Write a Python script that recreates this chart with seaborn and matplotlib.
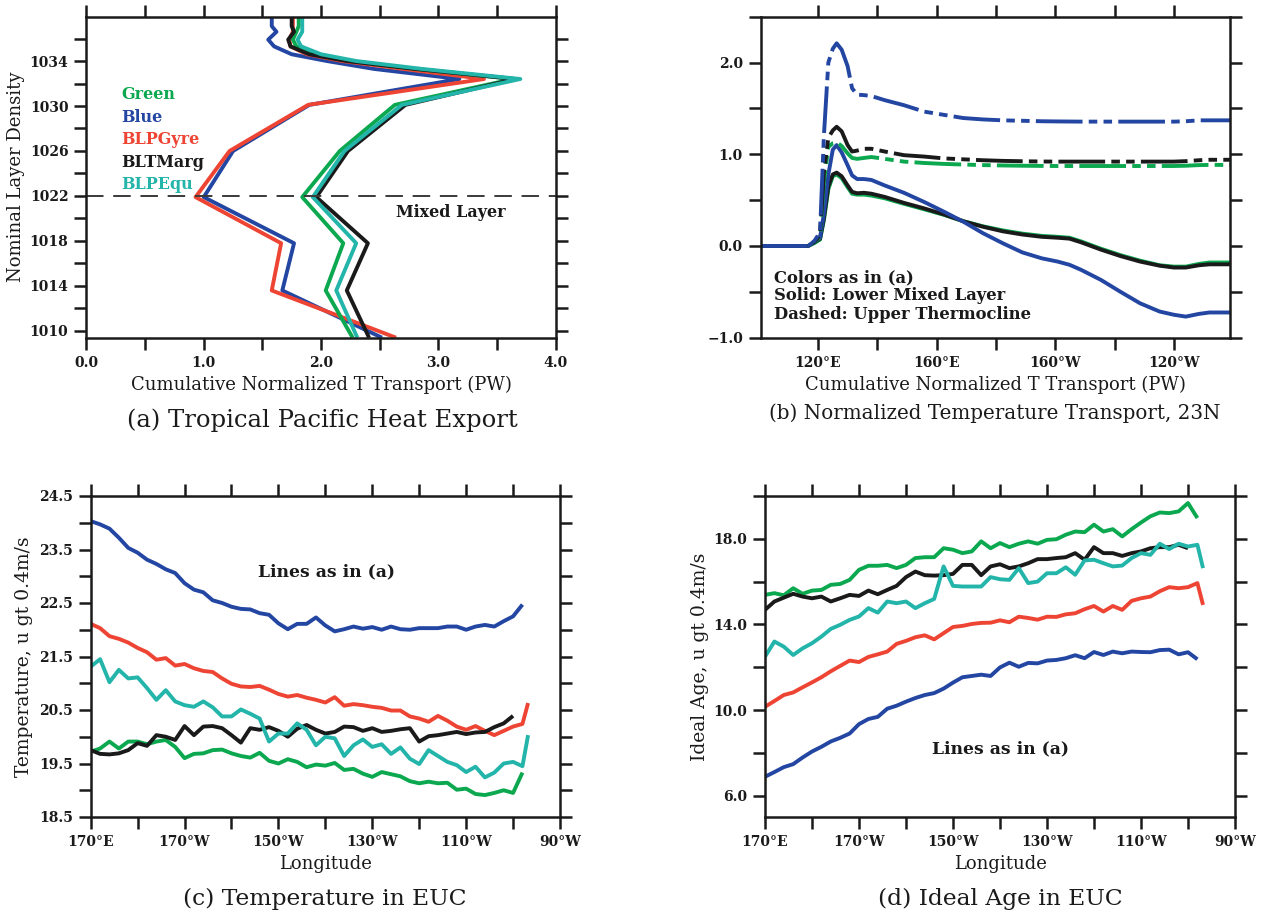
import numpy as np
import pandas as pd
import matplotlib
matplotlib.use("Agg")
import matplotlib.pyplot as plt
import seaborn as sns

# ---------------- colours / names ----------------
run_names = ["Green", "Blue", "BLPGyre", "BLTMarg", "BLPEqu"]
run_colors = ["#0BA84F", "#2346A2", "#EE4433", "#1A1A1A", "#23B4AA"]

# ---------------- panel (a) ----------------
density_a = [1009.4, 1013.6, 1017.8, 1021.9, 1026.0, 1030.1, 1032.4, 1033.3,
             1034.0, 1034.6, 1035.3, 1035.9, 1036.6, 1037.1, 1037.9]
a_green = [2.27, 2.04, 2.19, 1.84, 2.16, 2.63, 3.64, 2.80, 2.25, 1.95, 1.79, 1.76, 1.79, 1.81, 1.81]
a_blue = [2.52, 1.67, 1.77, 1.00, 1.25, 1.90, 3.18, 2.45, 2.05, 1.75, 1.60, 1.55, 1.62, 1.58, 1.58]
a_red = [2.64, 1.58, 1.66, 0.93, 1.22, 1.89, 3.39, 2.70, 2.18, 1.88, 1.74, 1.73, 1.76, 1.76, 1.76]
a_black = [2.41, 2.22, 2.40, 1.96, 2.23, 2.72, 3.66, 2.80, 2.22, 1.90, 1.74, 1.72, 1.77, 1.75, 1.75]
a_teal = [2.31, 2.13, 2.30, 1.93, 2.20, 2.69, 3.70, 2.86, 2.30, 2.00, 1.83, 1.80, 1.84, 1.84, 1.84]
mixed_layer_density = 1022

# ---------------- panel (b) ----------------
lon_b = [100.8, 110, 116.7, 118.7, 120.7, 122, 123.5, 125, 126.3, 128, 130, 131.5,
         133.2, 135.5, 138, 142.5, 149, 155.8, 162.4, 169, 175.6, 182.3, 188.9,
         195.5, 200.8, 204.8, 208.7, 215.4, 222, 228.6, 235.2, 240, 244, 248.5, 252, 258.9]
b_blue_solid = [0, 0, 0, 0.05, 0.09, 0.35, 0.78, 1.05, 1.10, 1.02, 0.88, 0.77, 0.73, 0.73,
                0.72, 0.66, 0.58, 0.48, 0.375, 0.265, 0.14, 0.03, -0.07, -0.135, -0.17,
                -0.205, -0.26, -0.37, -0.50, -0.625, -0.715, -0.75, -0.77, -0.74, -0.725, -0.725]
b_black_solid = [0, 0, 0, 0.04, 0.08, 0.30, 0.65, 0.78, 0.80, 0.76, 0.66, 0.59, 0.575, 0.58,
                 0.57, 0.535, 0.47, 0.41, 0.345, 0.27, 0.21, 0.16, 0.125, 0.10, 0.09, 0.08,
                 0.04, -0.04, -0.11, -0.17, -0.215, -0.235, -0.235, -0.21, -0.20, -0.20]
b_green_solid = [0, 0, 0, 0.03, 0.07, 0.28, 0.62, 0.76, 0.78, 0.74, 0.64, 0.57, 0.56, 0.56,
                 0.55, 0.52, 0.46, 0.40, 0.34, 0.27, 0.215, 0.17, 0.135, 0.11, 0.10, 0.09,
                 0.05, -0.03, -0.10, -0.16, -0.21, -0.225, -0.225, -0.195, -0.18, -0.18]
b_blue_dash = [0, 0, 0, 0.05, 0.15, 1.2, 2.0, 2.15, 2.21, 2.14, 1.96, 1.72, 1.65, 1.645,
               1.635, 1.59, 1.535, 1.465, 1.43, 1.395, 1.38, 1.37, 1.365, 1.36, 1.358,
               1.357, 1.356, 1.356, 1.356, 1.356, 1.356, 1.356, 1.36, 1.37, 1.37, 1.37]
b_black_dash = [0, 0, 0, 0.04, 0.12, 0.8, 1.18, 1.26, 1.30, 1.25, 1.10, 1.03, 1.04, 1.06,
                1.06, 1.03, 0.99, 0.975, 0.955, 0.945, 0.935, 0.928, 0.924, 0.921, 0.92,
                0.92, 0.92, 0.92, 0.92, 0.92, 0.92, 0.92, 0.925, 0.935, 0.94, 0.94]
b_green_dash = [0, 0, 0, 0.04, 0.10, 0.7, 1.08, 1.12, 1.13, 1.09, 1.01, 0.96, 0.95, 0.96,
                0.97, 0.95, 0.92, 0.905, 0.895, 0.888, 0.882, 0.878, 0.875, 0.873, 0.872,
                0.872, 0.872, 0.872, 0.872, 0.872, 0.872, 0.872, 0.875, 0.882, 0.884, 0.884]

# ---------------- panels (c) and (d) ----------------
nan = np.nan
lon_cd = list(range(170, 263, 2)) + [263.2]
c_blue = [24.03, 23.97, 23.89, 23.72, 23.53, 23.44, 23.31, 23.23, 23.13, 23.06, 22.87, 22.75,
          22.70, 22.55, 22.50, 22.43, 22.39, 22.38, 22.31, 22.28, 22.12, 22.01, 22.11, 22.11,
          22.23, 22.08, 21.97, 22.01, 22.06, 22.02, 22.05, 22.00, 22.06, 22.01, 22.00, 22.03,
          22.03, 22.03, 22.06, 22.06, 22.00, 22.06, 22.09, 22.06, 22.16, 22.25, 22.47, nan]
c_red = [22.11, 22.03, 21.88, 21.83, 21.76, 21.66, 21.58, 21.44, 21.47, 21.33, 21.36, 21.28,
         21.23, 21.21, 21.09, 20.99, 20.94, 20.93, 20.95, 20.88, 20.80, 20.75, 20.78, 20.73,
         20.69, 20.64, 20.74, 20.58, 20.61, 20.59, 20.56, 20.54, 20.49, 20.49, 20.38, 20.34,
         20.28, 20.39, 20.30, 20.19, 20.13, 20.20, 20.11, 20.03, 20.11, 20.19, 20.24, 20.63]
c_teal = [21.31, 21.45, 21.02, 21.25, 21.09, 21.11, 20.91, 20.69, 20.87, 20.66, 20.59, 20.56,
          20.66, 20.55, 20.38, 20.38, 20.51, 20.43, 20.34, 19.91, 20.06, 20.06, 20.25, 20.13,
          19.84, 20.00, 19.97, 19.64, 19.84, 19.95, 19.81, 19.86, 19.68, 19.80, 19.59, 19.49,
          19.75, 19.64, 19.53, 19.47, 19.34, 19.44, 19.24, 19.33, 19.50, 19.53, 19.45, 20.03]
c_black = [19.75, 19.68, 19.67, 19.69, 19.75, 19.88, 19.83, 20.03, 20.00, 19.94, 20.20, 20.03,
           20.19, 20.20, 20.16, 20.03, 19.89, 20.16, 20.13, 20.18, 20.11, 20.00, 20.15, 20.22,
           20.13, 20.06, 20.09, 20.19, 20.18, 20.11, 20.16, 20.09, 20.11, 20.14, 20.16, 19.91,
           20.01, 20.03, 20.06, 20.09, 20.05, 20.08, 20.09, 20.18, 20.25, 20.39, nan, nan]
c_green = [19.72, 19.78, 19.91, 19.78, 19.91, 19.91, 19.86, 19.91, 19.94, 19.81, 19.60, 19.68,
           19.69, 19.75, 19.76, 19.69, 19.64, 19.61, 19.70, 19.55, 19.50, 19.58, 19.53, 19.43,
           19.48, 19.46, 19.51, 19.38, 19.40, 19.31, 19.25, 19.34, 19.30, 19.26, 19.17, 19.13,
           19.16, 19.13, 19.14, 19.01, 19.03, 18.93, 18.91, 18.95, 19.00, 18.95, 19.33, nan]

d_green = [15.38, 15.46, 15.36, 15.69, 15.43, 15.58, 15.61, 15.85, 15.89, 16.08, 16.55, 16.74,
           16.74, 16.78, 16.63, 16.78, 17.10, 17.14, 17.14, 17.56, 17.49, 17.33, 17.41, 17.88,
           17.56, 17.80, 17.61, 17.77, 17.88, 17.77, 17.95, 17.98, 18.19, 18.34, 18.31, 18.66,
           18.34, 18.45, 18.11, 18.45, 18.76, 19.05, 19.23, 19.20, 19.28, 19.67, 18.97, nan]
d_black = [14.68, 15.07, 15.25, 15.43, 15.30, 15.22, 15.30, 15.07, 15.22, 15.38, 15.33, 15.58,
           15.41, 15.61, 15.80, 16.21, 16.47, 16.30, 16.28, 16.30, 16.36, 16.78, 16.78, 16.30,
           16.71, 16.81, 16.63, 16.71, 16.86, 17.05, 17.05, 17.10, 17.14, 17.33, 17.02, 17.61,
           17.33, 17.33, 17.20, 17.33, 17.41, 17.56, 17.61, 17.61, 17.72, 17.56, nan, nan]
d_teal = [12.49, 13.20, 12.96, 12.57, 12.88, 13.12, 13.43, 13.79, 13.98, 14.21, 14.37, 14.76,
          14.55, 15.07, 14.99, 15.07, 14.76, 14.99, 15.19, 16.71, 15.80, 15.77, 15.77, 15.77,
          16.21, 16.11, 16.08, 16.63, 15.93, 16.00, 16.39, 16.39, 16.67, 16.32, 16.99, 17.02,
          16.86, 16.71, 16.75, 17.10, 17.33, 17.25, 17.77, 17.52, 17.77, 17.64, 17.72, 16.63]
d_red = [10.15, 10.42, 10.70, 10.82, 11.06, 11.29, 11.53, 11.81, 12.06, 12.31, 12.24, 12.48,
         12.60, 12.73, 13.09, 13.23, 13.40, 13.49, 13.30, 13.59, 13.88, 13.93, 14.02, 14.07,
         14.08, 14.19, 14.10, 14.36, 14.30, 14.22, 14.36, 14.35, 14.47, 14.52, 14.71, 14.86,
         14.60, 14.86, 14.68, 15.10, 15.22, 15.30, 15.55, 15.74, 15.69, 15.74, 15.93, 14.91]
d_blue = [6.88, 7.10, 7.33, 7.47, 7.78, 8.06, 8.28, 8.53, 8.70, 8.90, 9.34, 9.58,
          9.68, 10.06, 10.20, 10.39, 10.56, 10.70, 10.79, 11.00, 11.28, 11.53, 11.59, 11.65,
          11.59, 11.99, 12.21, 12.02, 12.20, 12.18, 12.31, 12.34, 12.42, 12.56, 12.42, 12.71,
          12.57, 12.73, 12.65, 12.73, 12.71, 12.70, 12.80, 12.82, 12.60, 12.70, 12.37, nan]

# ---------------- styling ----------------
sns.set_theme(style="ticks")
plt.rcParams["font.family"] = ["DejaVu Serif"]
plt.rcParams["axes.linewidth"] = 1.8
plt.rcParams["lines.solid_capstyle"] = "butt"

col = dict(zip(run_names, run_colors))
W, H = 1265, 915
fig = plt.figure(figsize=(W / 100, H / 100), dpi=100)
fig.patch.set_facecolor("white")

def px_axes(left, top, right, bottom):
    return fig.add_axes([left / W, 1 - bottom / H, (right - left) / W, (bottom - top) / H])

axA = px_axes(86.5, 16.7, 555.5, 337.7)
axB = px_axes(761, 16.7, 1230, 337.7)
axC = px_axes(90.7, 496, 560, 817)
axD = px_axes(765, 496, 1235, 817)

TICK_FS = 10
LW = 2.8
INK = "#1A1A1A"

def style(ax):
    for s in ax.spines.values():
        s.set_linewidth(1.8)
        s.set_color(INK)
        s.set_visible(True)
    ax.tick_params(direction="out", length=8.5, width=1.8, color=INK,
                   top=True, right=True, labeltop=False, labelright=False, pad=4.5)
    ax.set_facecolor("white")
    ax.grid(False)

def set_ticks(ax, xt, xl, yt, yl):
    ax.set_xticks(xt, labels=xl, fontsize=TICK_FS, fontweight="bold", color=INK)
    ax.set_yticks(yt, labels=yl, fontsize=TICK_FS, fontweight="bold", color=INK)

# ---- (a)
for name, vals in [("Blue", a_blue), ("BLPGyre", a_red), ("Green", a_green),
                   ("BLTMarg", a_black), ("BLPEqu", a_teal)]:
    sns.lineplot(x=vals, y=density_a, orient="y", sort=False, estimator=None,
                 color=col[name], lw=LW, ax=axA, legend=False)
axA.axhline(mixed_layer_density, color="#3A3A3A", lw=1.4, dashes=(9, 5))
axA.set_xlim(0, 4)
axA.set_ylim(1009.4, 1037.94)
xa = [0, 0.5, 1, 1.5, 2, 2.5, 3, 3.5, 4]
ya = list(range(1010, 1037, 2))
set_ticks(axA, xa, [f"{v:.1f}" if v == int(v) else "" for v in xa],
          ya, [str(v) if (v - 1010) % 4 == 0 else "" for v in ya])
style(axA)
for i, name in enumerate(run_names):
    axA.text(0.30, 1031 - 2 * i, name, color=col[name], fontsize=11.5,
             fontweight="bold", ha="left", va="center")
axA.text(2.64, 1020.5, "Mixed Layer", color=INK, fontsize=11.5,
         fontweight="bold", ha="left", va="center")
axA.set_xlabel("Cumulative Normalized T Transport (PW)", fontsize=13, color=INK)
axA.set_ylabel("Nominal Layer Density", fontsize=13, color=INK)

# ---- (b)
dash_pat = (0, (12, 1.6, 2.2, 1.6, 2.2, 1.6))
for name, vals in [("Green", b_green_solid), ("BLTMarg", b_black_solid), ("Blue", b_blue_solid)]:
    sns.lineplot(x=lon_b, y=vals, estimator=None, color=col[name], lw=LW, ax=axB, legend=False)
for name, vals in [("Green", b_green_dash), ("BLTMarg", b_black_dash), ("Blue", b_blue_dash)]:
    sns.lineplot(x=lon_b, y=vals, estimator=None, color=col[name], lw=LW, ax=axB,
                 legend=False, linestyle=dash_pat)
axB.set_xlim(100.8, 258.9)
axB.set_ylim(-1.0, 2.5)
xb = [120, 140, 160, 180, 200, 220, 240]
yb = [-1.0, -0.5, 0.0, 0.5, 1.0, 1.5, 2.0, 2.5]
set_ticks(axB, xb, ["120°E", "", "160°E", "", "160°W", "", "120°W"],
          yb, ["\u22121.0", "", "0.0", "", "1.0", "", "2.0", ""])
style(axB)
for i, t in enumerate(["Colors as in (a)", "Solid: Lower Mixed Layer", "Dashed: Upper Thermocline"]):
    axB.text(105.2, -0.345 - 0.2 * i, t, fontsize=11.8, fontweight="bold",
             color=INK, ha="left", va="center")
axB.set_xlabel("Cumulative Normalized T Transport (PW)", fontsize=13, color=INK)
axB.set_ylabel("")

# ---- (c)
for name, vals in [("Blue", c_blue), ("BLPGyre", c_red), ("Green", c_green),
                   ("BLTMarg", c_black), ("BLPEqu", c_teal)]:
    sns.lineplot(x=lon_cd, y=vals, estimator=None, color=col[name], lw=LW, ax=axC, legend=False)
axC.set_xlim(170, 270)
axC.set_ylim(18.5, 24.5)
xc = list(range(170, 271, 10))
xlab = ["170°E", "", "170°W", "", "150°W", "", "130°W", "", "110°W", "", "90°W"]
yc = [18.5 + 0.5 * i for i in range(13)]
set_ticks(axC, xc, xlab, yc, [f"{v:.1f}" if i % 2 == 0 else "" for i, v in enumerate(yc)])
style(axC)
axC.text(205.7, 23.09, "Lines as in (a)", fontsize=12.3, fontweight="bold",
         color=INK, ha="left", va="center")
axC.set_xlabel("Longitude", fontsize=13, color=INK)
axC.set_ylabel("Temperature, u gt 0.4m/s", fontsize=13.5, color=INK)

# ---- (d)
for name, vals in [("Green", d_green), ("BLTMarg", d_black), ("BLPEqu", d_teal),
                   ("BLPGyre", d_red), ("Blue", d_blue)]:
    sns.lineplot(x=lon_cd, y=vals, estimator=None, color=col[name], lw=LW, ax=axD, legend=False)
axD.set_xlim(170, 270)
axD.set_ylim(5.0, 20.0)
yd = list(range(6, 21, 2))
set_ticks(axD, xc, xlab, yd, [f"{v:.1f}" if (v - 6) % 4 == 0 else "" for v in yd])
style(axD)
axD.text(205.6, 8.2, "Lines as in (a)", fontsize=12.3, fontweight="bold",
         color=INK, ha="left", va="center")
axD.set_xlabel("Longitude", fontsize=13, color=INK)
axD.set_ylabel("Ideal Age, u gt 0.4m/s", fontsize=13.5, color=INK)

# label positions
for ax, ylx in [(axA, -0.150), (axC, -0.142), (axD, -0.139)]:
    ax.yaxis.set_label_coords(ylx, 0.5)
    ax.yaxis.label.set_va("center")
for ax in [axA, axB, axC, axD]:
    ax.xaxis.label.set_va("center")
axA.xaxis.set_label_coords(0.5, (337.7 - 385) / 321)
axB.xaxis.set_label_coords(0.5, (337.7 - 385) / 321)
axC.xaxis.set_label_coords(0.5, (817 - 864) / 321)
axD.xaxis.set_label_coords(0.5, (817 - 864) / 321)

# panel titles
fig.text(322 / W, 1 - 420 / H, "(a) Tropical Pacific Heat Export", fontsize=17.5,
         ha="center", va="center", color=INK)
fig.text(995 / W, 1 - 413 / H, "(b) Normalized Temperature Transport, 23N", fontsize=14.3,
         ha="center", va="center", color=INK)
fig.text(325 / W, 1 - 899 / H, "(c) Temperature in EUC", fontsize=16.8,
         ha="center", va="center", color=INK)
fig.text(1000 / W, 1 - 899 / H, "(d) Ideal Age in EUC", fontsize=16.8,
         ha="center", va="center", color=INK)

fig.savefig("out.png", dpi=100, facecolor="white")
